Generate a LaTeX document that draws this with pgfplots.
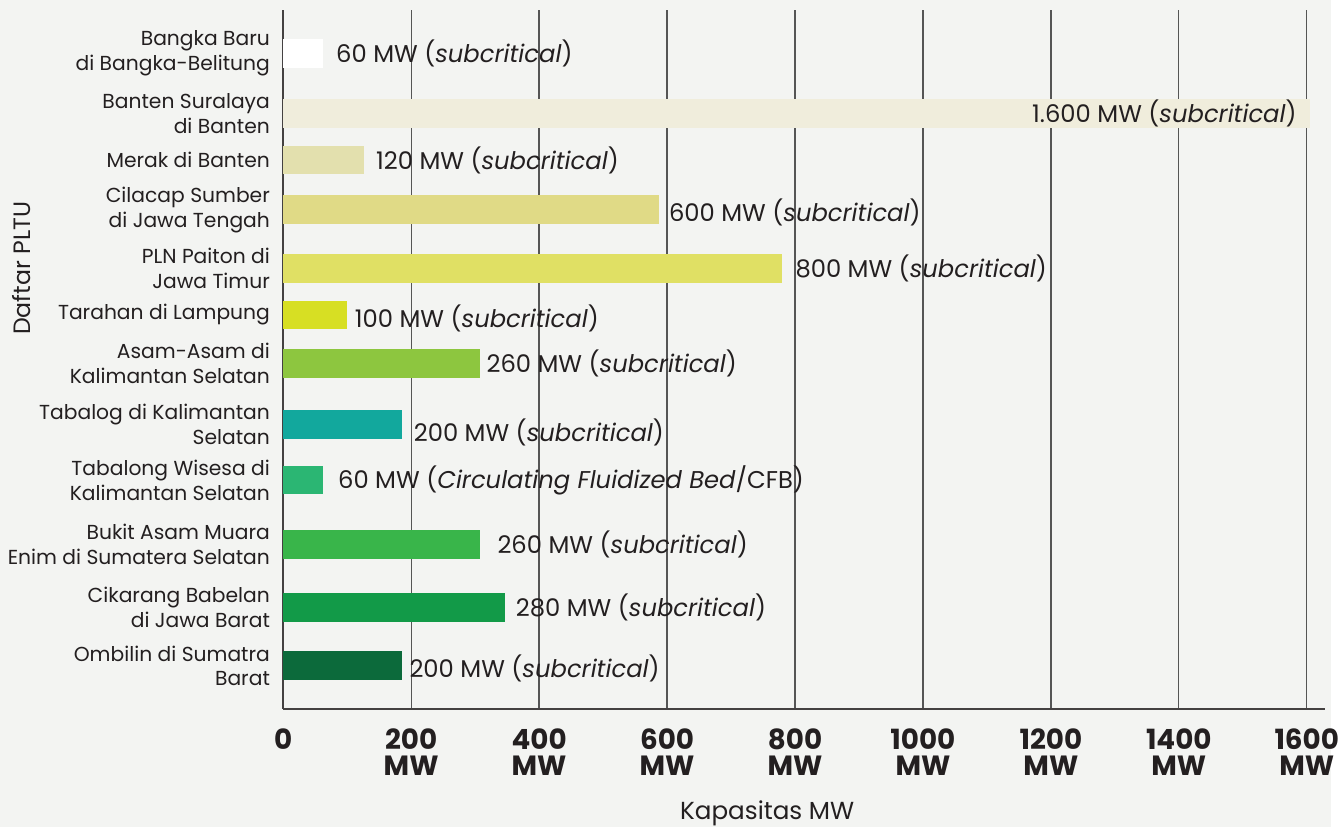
\documentclass[border=0pt]{standalone}
\usepackage{pgfplots}
\pgfplotsset{compat=1.18}
\usepackage{fontspec}
\setmainfont{Poppins}
\definecolor{bg}{HTML}{F3F4F2}
\definecolor{tc}{HTML}{231F20}
\definecolor{gridc}{HTML}{555555}
\definecolor{c1}{HTML}{FFFFFF}
\definecolor{c2}{HTML}{F0EDDC}
\definecolor{c3}{HTML}{E3E0AE}
\definecolor{c4}{HTML}{E0DA86}
\definecolor{c5}{HTML}{E0E064}
\definecolor{c6}{HTML}{D7DF23}
\definecolor{c7}{HTML}{8DC63F}
\definecolor{c8}{HTML}{12A89D}
\definecolor{c9}{HTML}{2BB673}
\definecolor{c10}{HTML}{39B54A}
\definecolor{c11}{HTML}{129A48}
\definecolor{c12}{HTML}{0C6A3B}
\newcommand\labfont{\fontsize{12.2}{14}\selectfont}
\pgfplotsset{lab/.style 2 args={nodes near coords={#2},
  every node near coord/.append style={anchor=west, xshift=#1}}}
\begin{document}
\begin{tikzpicture}
\begin{axis}[
  set layers,
  scale only axis,
  width=524pt, height=351.5pt,
  xmin=0, xmax=1628,
  ymin=119, ymax=822,
  clip=false,
  axis lines=left,
  axis line style={-, line width=1pt, color=tc!85},
  major tick length=0pt,
  tick style={draw=none},
  xmajorgrids,
  major grid style={color=gridc, line width=0.65pt},
  xtick={0,200,400,600,800,1000,1200,1400,1600},
  xticklabels={0,200\\MW,400\\MW,600\\MW,800\\MW,1000\\MW,1200\\MW,1400\\MW,1600\\MW},
  xticklabel style={align=center, inner sep=0pt, yshift=-10pt, text=tc,
    font=\bfseries\fontsize{14}{13}\selectfont},
  ytick={778.5,718,671,621,562,515,466,405,349,284,221,162},
  yticklabels={{Bangka Baru\\di Bangka-Belitung},{Banten Suralaya\\di Banten},
    {Merak di Banten},{Cilacap Sumber\\di Jawa Tengah\ },{PLN Paiton di\\Jawa Timur},
    {Tarahan di Lampung},{Asam-Asam di\\Kalimantan Selatan\ },{Tabalog di Kalimantan\\Selatan\ },
    {Tabalong Wisesa di\\Kalimantan Selatan},{Bukit Asam Muara\\Enim di Sumatera Selatan},
    {Cikarang Babelan\\di Jawa Barat},{Ombilin di Sumatra\\Barat}},
  yticklabel style={align=right, inner sep=0pt, xshift=-6.5pt, text=tc,
    font=\fontsize{10.2}{12.5}\selectfont},
  xbar, bar width=14.5pt, bar shift=0pt,
  every node near coord/.style={font=\labfont, text=tc, inner sep=0pt},
]
\begin{pgfonlayer}{axis background}
\fill[bg] (axis cs:-442.7,0) rectangle (axis cs:1637.3,832);
\end{pgfonlayer}
\addplot[fill=c1, draw=none, lab={6.5pt}{60 MW (\textit{subcritical})}] coordinates {(62,778.5)};
\addplot[fill=c2, draw=none, nodes near coords={1.600 MW (\textit{subcritical})},
  every node near coord/.append style={anchor=east, xshift=-6.5pt}] coordinates {(1605,718)};
\addplot[fill=c3, draw=none, lab={6pt}{120 MW (\textit{subcritical})}] coordinates {(126,671)};
\addplot[fill=c4, draw=none, lab={5pt}{600 MW (\textit{subcritical})},
  every node near coord/.append style={yshift=-1.5pt}] coordinates {(587,621)};
\addplot[fill=c5, draw=none, lab={6.5pt}{800 MW (\textit{subcritical})}] coordinates {(780,562)};
\addplot[fill=c6, draw=none, lab={4pt}{100 MW (\textit{subcritical})},
  every node near coord/.append style={yshift=-1.5pt}] coordinates {(99,515)};
\addplot[fill=c7, draw=none, lab={3pt}{260 MW (\textit{subcritical})}] coordinates {(308,466)};
\addplot[fill=c8, draw=none, lab={6pt}{200 MW (\textit{subcritical})},
  every node near coord/.append style={yshift=-4pt}] coordinates {(185,405)};
\addplot[fill=c9, draw=none, lab={7.5pt}{60 MW (\textit{Circulating Fluidized Bed}/CFB)}] coordinates {(62,349)};
\addplot[fill=c10, draw=none, lab={8.5pt}{260 MW (\textit{subcritical})}] coordinates {(308,284)};
\addplot[fill=c11, draw=none, lab={5.5pt}{280 MW (\textit{subcritical})}] coordinates {(346,221)};
\addplot[fill=c12, draw=none, lab={3.5pt}{200 MW (\textit{subcritical})},
  every node near coord/.append style={yshift=-1.5pt}] coordinates {(186,162)};
\node[anchor=base, text=tc, font=\fontsize{12.4}{14}\selectfont] at (axis cs:756.5,7) {Kapasitas MW};
\node[rotate=90, text=tc, font=\fontsize{11.9}{14}\selectfont] at (axis cs:-408.5,562) {Daftar PLTU};
\end{axis}
\end{tikzpicture}
\end{document}
